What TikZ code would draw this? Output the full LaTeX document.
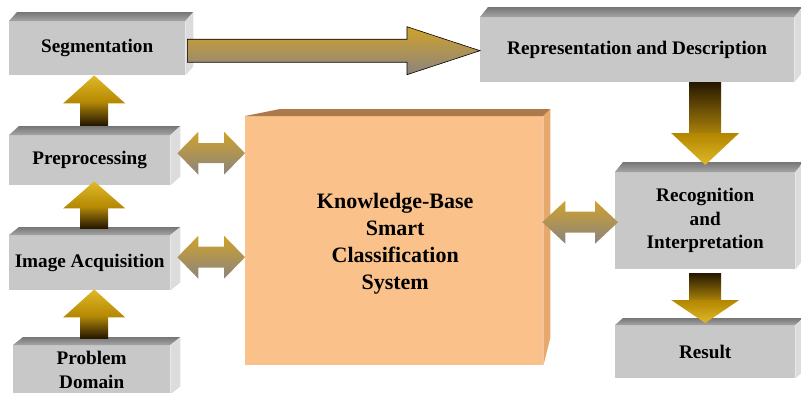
\documentclass[tikz,border=0pt]{standalone}
\usepackage{fontspec}
\setmainfont{Liberation Serif}
\usetikzlibrary{calc}
\definecolor{gfront}{RGB}{200,200,200}
\definecolor{gtopA}{RGB}{118,118,118}
\definecolor{gtopB}{RGB}{165,165,165}
\definecolor{gside}{RGB}{220,220,220}
\definecolor{ofront}{RGB}{250,194,138}
\definecolor{otop}{RGB}{172,122,74}
\definecolor{oside}{RGB}{230,168,108}
\definecolor{goldL}{RGB}{224,184,40}
\definecolor{goldD}{RGB}{178,134,0}
\definecolor{shaftT}{RGB}{168,128,10}
\definecolor{shaftD}{RGB}{38,24,0}
\definecolor{hgold}{RGB}{208,162,42}
\definecolor{hgray}{RGB}{138,132,128}
\tikzset{
  graybox/.style={fill=gfront, minimum width=#1, inner sep=0pt, anchor=north west,
    font=\bfseries\fontsize{19.2}{23.5}\selectfont, align=center},
  kbbox/.style={fill=ofront, inner sep=0pt, anchor=north west},
  kbtext/.style={font=\bfseries\fontsize{22}{27}\selectfont, align=center, inner sep=0pt},
  upshaft/.style={top color=shaftT, bottom color=shaftD},
  uphead/.style={top color=goldL, bottom color=goldD},
  downshaft/.style={top color=shaftD, bottom color=shaftT},
  downhead/.style={top color=goldD, bottom color=goldL},
  harrow/.style={top color=hgold, bottom color=hgray},
}
% 3D faces of a box: #1 node, #2 dx, #3 dy (up)
\newcommand\boxfaces[3]{%
  \shade[top color=gtopA, bottom color=gtopB] (#1.north west) -- ++(#2,-#3) -- ($(#1.north east)+(#2,-#3)$) -- (#1.north east) -- cycle;
  \fill[gside] (#1.north east) -- ++(#2,-#3) -- ($(#1.south east)+(#2,-#3)$) -- (#1.south east) -- cycle;
}
% vertical block arrow: #1 tail, #2 tip, #3 shaft hw, #4 head hw, #5 head len, #6 name, #7 shaft style, #8 head style
\newcommand\varrow[8]{%
  \coordinate (#6-base) at ($(#2)!#5!(#1)$);
  \shade[#7] ($(#1)!#3!90:(#2)$) -- ($(#6-base)!#3!-90:(#1)$) -- ($(#6-base)!#3!90:(#1)$) -- ($(#1)!#3!-90:(#2)$) -- cycle;
  \shade[#8] ($(#6-base)!#4!-90:(#1)$) -- (#2) -- ($(#6-base)!#4!90:(#1)$) -- cycle;
}
% single block arrow: #1 opts, #2 tail, #3 tip, #4 shaft hw, #5 head hw, #6 head len, #7 name
\newcommand\sarrow[7]{%
  \coordinate (#7-base) at ($(#3)!#6!(#2)$);
  \shade[#1] ($(#2)!#4!90:(#3)$) -- ($(#7-base)!#4!-90:(#2)$) -- ($(#7-base)!#5!-90:(#2)$) -- (#3)
    -- ($(#7-base)!#5!90:(#2)$) -- ($(#7-base)!#4!90:(#2)$) -- ($(#2)!#4!-90:(#3)$) -- cycle;
}
% double block arrow: #1 tip1, #2 tip2, #3 shaft hw, #4 head hw, #5 head len, #6 name
\newcommand\darrow[6]{%
  \coordinate (#6-ba) at ($(#1)!#5!(#2)$);
  \coordinate (#6-bb) at ($(#2)!#5!(#1)$);
  \shade[harrow] (#1) -- ($(#6-ba)!#4!90:(#2)$) -- ($(#6-ba)!#3!90:(#2)$) -- ($(#6-bb)!#3!-90:(#1)$)
    -- ($(#6-bb)!#4!-90:(#1)$) -- (#2) -- ($(#6-bb)!#4!90:(#1)$) -- ($(#6-bb)!#3!90:(#1)$)
    -- ($(#6-ba)!#3!-90:(#2)$) -- ($(#6-ba)!#4!-90:(#2)$) -- cycle;
}
\begin{document}
\begin{tikzpicture}[x=1pt,y=-1pt]
\useasboundingbox (0,0) rectangle (801,392);
\begin{scope}
\clip (0,0) rectangle (801,392);
% knowledge base box
\node[kbbox, minimum width=298pt, minimum height=249pt] (kb) at (245,116) {};
\fill[otop] (kb.north west) -- ($(kb.north west)+(35,-7)$) -- ($(kb.north east)+(7,-7)$) -- (kb.north east) -- cycle;
\fill[oside] (kb.north east) -- ($(kb.north east)+(7,-7)$) -- ($(kb.south east)+(7,-28)$) -- (kb.south east) -- cycle;
\node[kbtext] (kbt) at ($(kb.center)+(1,3)$) {Knowledge-Base\\Smart\\Classification\\System};
% gray boxes
\node[graybox=176pt, minimum height=54pt] (seg) at (9,21) {Segmentation};
\boxfaces{seg}{8}{9}
\node[graybox=161pt, minimum height=50pt] (pre) at (9,135) {Preprocessing};
\boxfaces{pre}{10}{9}
\node[graybox=161pt, minimum height=55pt] (img) at (9,235) {Image Acquisition};
\boxfaces{img}{10}{8}
\node[graybox=157pt, minimum height=49pt] (prob) at (13,345) {Problem\\Domain};
\boxfaces{prob}{10}{8}
\node[graybox=314pt, minimum height=65pt] (rep) at (480,17) {Representation and Description};
\boxfaces{rep}{8}{10}
\node[graybox=180pt, minimum height=97pt] (rec) at (615,172) {Recognition\\and\\Interpretation};
\boxfaces{rec}{8}{10}
\node[graybox=180pt, minimum height=53pt] (res) at (615,325) {Result};
\boxfaces{res}{8}{7}
% arrows
\coordinate (u1t) at ($(pre.north)+(4.5,-10)$);
\coordinate (u1p) at (u1t |- seg.south);
\varrow{u1t}{u1p}{14pt}{31pt}{28pt}{u1}{upshaft}{uphead}
\coordinate (u2t) at ($(img.north)+(4.5,-7)$);
\coordinate (u2p) at ($(u2t |- pre.south)+(0,-4)$);
\varrow{u2t}{u2p}{14pt}{31pt}{27pt}{u2}{upshaft}{uphead}
\coordinate (u3t) at ($(prob.north)+(2.5,-7)$);
\coordinate (u3p) at ($(u3t |- img.south)+(0,-1)$);
\varrow{u3t}{u3p}{14pt}{31pt}{28pt}{u3}{upshaft}{uphead}
\coordinate (d1t) at (rec.north |- rep.south);
\coordinate (d1p) at ($(rec.north)+(0,-7)$);
\varrow{d1t}{d1p}{16pt}{34pt}{32pt}{d1}{downshaft}{downhead}
\coordinate (d2t) at ($(rec.south)+(0,4)$);
\coordinate (d2p) at ($(res.north)+(0,-2)$);
\varrow{d2t}{d2p}{16pt}{34pt}{23pt}{d2}{downshaft}{downhead}
% big horizontal arrow
\coordinate (hat) at ($(seg.east)+(2,2.5)$);
\coordinate (hap) at (rep.west |- hat);
\sarrow{harrow, draw=black, line width=0.6pt}{hat}{hap}{11.5pt}{24pt}{73pt}{ha}
% double arrows
\coordinate (l1a) at ($(pre.east)+(7,-7)$);
\coordinate (l1b) at (kb.west |- l1a);
\darrow{l1a}{l1b}{10pt}{21.5pt}{21pt}{l1}
\coordinate (l2a) at ($(img.east)+(7,-5.5)$);
\coordinate (l2b) at (kb.west |- l2a);
\darrow{l2a}{l2b}{10.5pt}{21.5pt}{21pt}{l2}
\coordinate (r1b) at ($(rec.west)+(3,1.5)$);
\coordinate (r1a) at ($(kb.east |- r1b)+(-1,0)$);
\darrow{r1a}{r1b}{10.5pt}{21.5pt}{23pt}{r1}
\end{scope}
\end{tikzpicture}
\end{document}
